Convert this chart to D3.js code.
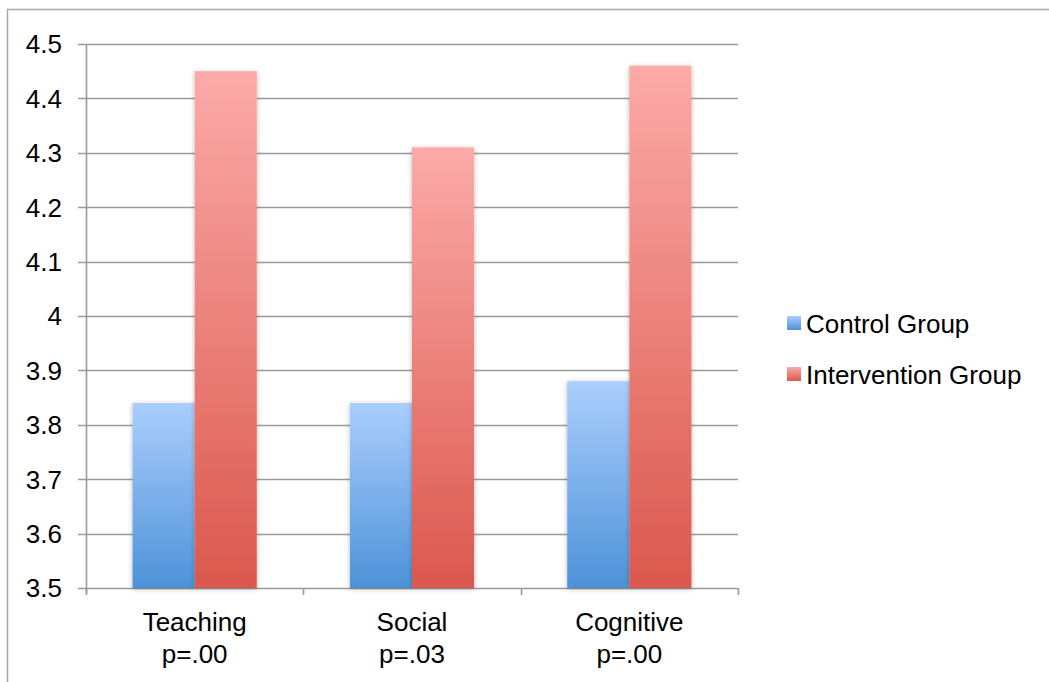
<!DOCTYPE html>
<html>
<head>
<meta charset="utf-8">
<script src="https://cdn.jsdelivr.net/npm/d3@7"></script>
<style>
  html, body { margin: 0; padding: 0; background: #fff; }
  svg { display: block; font-family: "Liberation Sans", Arial, Helvetica, sans-serif; }
</style>
</head>
<body>
<svg id="chart" width="1049" height="682"></svg>
<script>
// Survey scores by presence type, control vs intervention
const categories = ["Teaching", "Social", "Cognitive"];
const pValues = ["p=.00", "p=.03", "p=.00"];
const seriesNames = ["Control Group", "Intervention Group"];
const controlValues = [3.84, 3.84, 3.88];
const interventionValues = [4.45, 4.31, 4.46];
const yTicks = [3.5, 3.6, 3.7, 3.8, 3.9, 4, 4.1, 4.2, 4.3, 4.4, 4.5];

const svg = d3.select("#chart");
const margin = { left: 86, right: 738, top: 44, bottom: 588 };
const fontSize = 26;

const defs = svg.append("defs");
const gradStops = [
  ["gradControl", "#abcefd", "#4d92d8"],
  ["gradIntervention", "#fcaaa8", "#da584d"]
];
gradStops.forEach(([id, top, bottom]) => {
  const g = defs.append("linearGradient").attr("id", id)
    .attr("x1", 0).attr("y1", 0).attr("x2", 0).attr("y2", 1);
  g.append("stop").attr("offset", "0%").attr("stop-color", top);
  g.append("stop").attr("offset", "100%").attr("stop-color", bottom);
});
const shadow = defs.append("filter").attr("id", "barShadow")
  .attr("x", "-20%").attr("y", "-5%").attr("width", "140%").attr("height", "110%");
shadow.append("feDropShadow").attr("dx", 0).attr("dy", 1).attr("stdDeviation", 2.5)
  .attr("flood-color", "#000").attr("flood-opacity", 0.28);

// outer chart frame
svg.append("rect").attr("x", 7.5).attr("y", 9.5).attr("width", 1100).attr("height", 700)
  .attr("fill", "none").attr("stroke", "#a6a6a6").attr("stroke-width", 1.5);

const y = d3.scaleLinear().domain([3.5, 4.5]).range([margin.bottom, margin.top]);
const x0 = d3.scaleBand().domain(categories).range([margin.left, margin.right]).paddingInner(0).paddingOuter(0);
const x1 = d3.scaleBand().domain(seriesNames)
  .range([0, x0.bandwidth()]).paddingOuter(0.75).paddingInner(0);

// gridlines
svg.append("g").selectAll("line").data(yTicks).join("line")
  .attr("x1", margin.left - 8).attr("x2", margin.right)
  .attr("y1", d => Math.round(y(d)) + 0.5).attr("y2", d => Math.round(y(d)) + 0.5)
  .attr("stroke", "#9a9a9a").attr("stroke-width", 1.6);

// y axis line
svg.append("line").attr("x1", margin.left + 0.5).attr("x2", margin.left + 0.5)
  .attr("y1", margin.top).attr("y2", margin.bottom + 5)
  .attr("stroke", "#9a9a9a").attr("stroke-width", 1.6);

// y tick labels
svg.append("g").selectAll("text").data(yTicks).join("text")
  .attr("x", 62).attr("y", d => y(d)).attr("dy", "0.36em")
  .attr("text-anchor", "end").attr("font-size", fontSize).attr("fill", "#000")
  .text(d => String(d));

// category separator ticks
const sepTicks = [margin.left, ...categories.map(c => x0(c) + x0.bandwidth())];
svg.append("g").selectAll("line").data(sepTicks).join("line")
  .attr("x1", d => Math.round(d) + 0.5).attr("x2", d => Math.round(d) + 0.5)
  .attr("y1", margin.bottom).attr("y2", margin.bottom + 7)
  .attr("stroke", "#9a9a9a").attr("stroke-width", 1.6);

// bars
const rows = categories.map((c, i) => ({
  cat: c,
  vals: [
    { s: seriesNames[0], v: controlValues[i], fill: "url(#gradControl)" },
    { s: seriesNames[1], v: interventionValues[i], fill: "url(#gradIntervention)" }
  ]
}));
const groups = svg.append("g").selectAll("g").data(rows).join("g")
  .attr("transform", d => `translate(${x0(d.cat)},0)`);
groups.selectAll("rect").data(d => d.vals).join("rect")
  .attr("x", d => x1(d.s)).attr("width", x1.bandwidth())
  .attr("y", d => y(d.v)).attr("height", d => y(3.5) - y(d.v))
  .attr("fill", d => d.fill).attr("filter", "url(#barShadow)");

// category labels
const labels = svg.append("g").selectAll("text").data(categories).join("text")
  .attr("text-anchor", "middle").attr("font-size", fontSize).attr("fill", "#000");
labels.append("tspan").attr("x", d => x0(d) + x0.bandwidth() / 2).attr("y", 631).text(d => d);
labels.append("tspan").attr("x", d => x0(d) + x0.bandwidth() / 2).attr("y", 663)
  .text((d, i) => pValues[i]);

// legend
const legend = svg.append("g").selectAll("g").data(seriesNames).join("g")
  .attr("transform", (d, i) => `translate(787,${316 + i * 51})`);
legend.append("rect").attr("width", 14).attr("height", 14)
  .attr("fill", (d, i) => i === 0 ? "url(#gradControl)" : "url(#gradIntervention)");
legend.append("text").attr("x", 19).attr("y", 8).attr("dy", "0.36em")
  .attr("font-size", fontSize).attr("fill", "#000").text(d => d);
</script>
</body>
</html>
